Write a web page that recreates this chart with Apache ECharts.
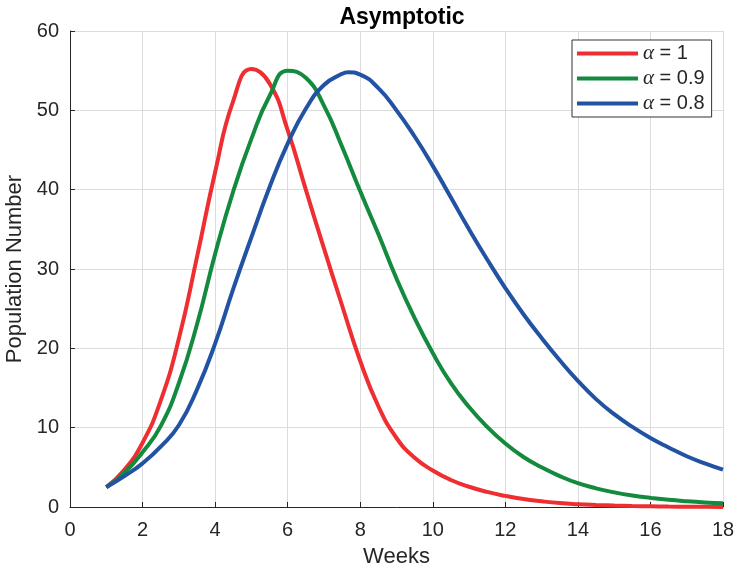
<!DOCTYPE html>
<html>
<head>
<meta charset="utf-8">
<script src="https://cdn.jsdelivr.net/npm/echarts@6/dist/echarts.min.js"></script>
<style>html,body{margin:0;padding:0;background:#fff;}#c{width:738px;height:572px;}</style>
</head>
<body>
<div id="c"></div>
<script>
var weeksA1  = [1,1.5,2,2.5,3,3.5,4,4.5,5,5.5,6,6.5,7,7.5,8,8.5,9,9.5,10,10.5,11,11.5,12,12.5,13,13.5,14,14.5,15,15.5,16,16.5,17,17.5,18];
var alpha1   = [2.5,4.7,8.1,13.4,21.2,31.5,42.2,51.2,55.2,53.4,47.5,40,32.6,25.4,18.4,12.7,8.7,6.2,4.6,3.4,2.55,1.9,1.4,1.0,0.72,0.5,0.36,0.26,0.18,0.12,0.08,0.05,0.03,0.02,0.01];
var weeksA09 = [1,1.5,2,2.5,3,3.5,4,4.5,5,5.5,6,6.5,7,7.5,8,8.5,9,9.5,10,10.5,11,11.5,12,12.5,13,13.5,14,14.5,15,15.5,16,16.5,17,17.5,18];
var alpha09  = [2.5,4.3,6.9,10.2,15.6,23,31.9,39.8,46.4,51.8,55.0,54.1,50.6,45.4,39.8,34.4,28.8,23.8,19.4,15.6,12.6,10.1,8.0,6.3,5.0,3.9,3.0,2.35,1.85,1.45,1.15,0.9,0.72,0.58,0.48];
var weeksA08 = [1,1.5,2,2.5,3,3.5,4,4.5,5,5.5,6,6.5,7,7.5,7.66,8,8.5,9,9.5,10,10.5,11,11.5,12,12.5,13,13.5,14,14.5,15,15.5,16,16.5,17,17.5,18];
var alpha08  = [2.5,3.9,5.5,7.6,10.3,14.8,20.6,27.5,34,40.3,45.8,50.2,53.2,54.6,54.8,54.5,52.8,50,46.7,43,39,35,31.2,27.6,24.3,21.3,18.5,15.9,13.6,11.7,10.1,8.7,7.5,6.4,5.5,4.7];
var seriesNames = ['α = 1','α = 0.9','α = 0.8'];
var seriesWeeks = [weeksA1, weeksA09, weeksA08];
var seriesValues = [alpha1, alpha09, alpha08];
var colors = ['#EE2E31','#138A3E','#2253A2'];

function pairs(ws, vals){ return ws.map(function(w,i){ return [w, vals[i]]; }); }

var chart = echarts.init(document.getElementById('c'), null, {renderer:'canvas'});
var txt = '#262626';
var font = 'Liberation Sans, Arial, Helvetica, sans-serif';
chart.setOption({
  animation:false,
  backgroundColor:'#fff',
  title:{text:'Asymptotic', left:397, top:1, textAlign:'center',
    textStyle:{fontFamily:font, fontSize:23, fontWeight:'bold', color:'#000'}},
  grid:{left:70, right:15, top:31, bottom:65, containLabel:false, outerBoundsMode:'none'},
  legend:{
    left:572, top:40, orient:'vertical',
    padding:[3,7,3,5], itemGap:4,
    backgroundColor:'#fff', borderColor:'#333', borderWidth:1, borderRadius:0,
    itemWidth:61, itemHeight:4, icon:'rect',
    data: seriesNames,
    formatter:function(n){ return '{a|α}' + n.slice(1); },
    textStyle:{fontFamily:font, fontSize:20, color:txt, lineHeight:21,
      rich:{a:{fontFamily:'Liberation Serif, Times New Roman, serif', fontStyle:'italic', fontSize:21, color:txt, lineHeight:21}}}
  },
  xAxis:{type:'value', min:0, max:18, interval:2,
    name:'Weeks', nameLocation:'middle', nameGap:39,
    nameTextStyle:{fontFamily:font, fontSize:22, color:txt},
    axisLine:{show:true, lineStyle:{color:'#262626', width:1}},
    axisTick:{show:true, inside:true, length:5, lineStyle:{color:'#262626'}},
    axisLabel:{fontFamily:font, fontSize:20, color:txt, margin:13},
    splitLine:{show:true, lineStyle:{color:'#dcdcdc', width:1}}
  },
  yAxis:{type:'value', min:0, max:60, interval:10,
    name:'Population Number', nameLocation:'middle', nameGap:41,
    nameTextStyle:{fontFamily:font, fontSize:22, color:txt},
    axisLine:{show:true, lineStyle:{color:'#262626', width:1}},
    axisTick:{show:true, inside:true, length:5, lineStyle:{color:'#262626'}},
    axisLabel:{fontFamily:font, fontSize:20, color:txt, margin:11},
    splitLine:{show:true, lineStyle:{color:'#dcdcdc', width:1}}
  },
  series: seriesNames.map(function(n,i){
    return {name:n, type:'line', data:pairs(seriesWeeks[i], seriesValues[i]), smooth:0.5,
      showSymbol:false, symbol:'none', color:colors[i],
      lineStyle:{width:4, color:colors[i]}, itemStyle:{color:colors[i]}};
  })
});
</script>
</body>
</html>
